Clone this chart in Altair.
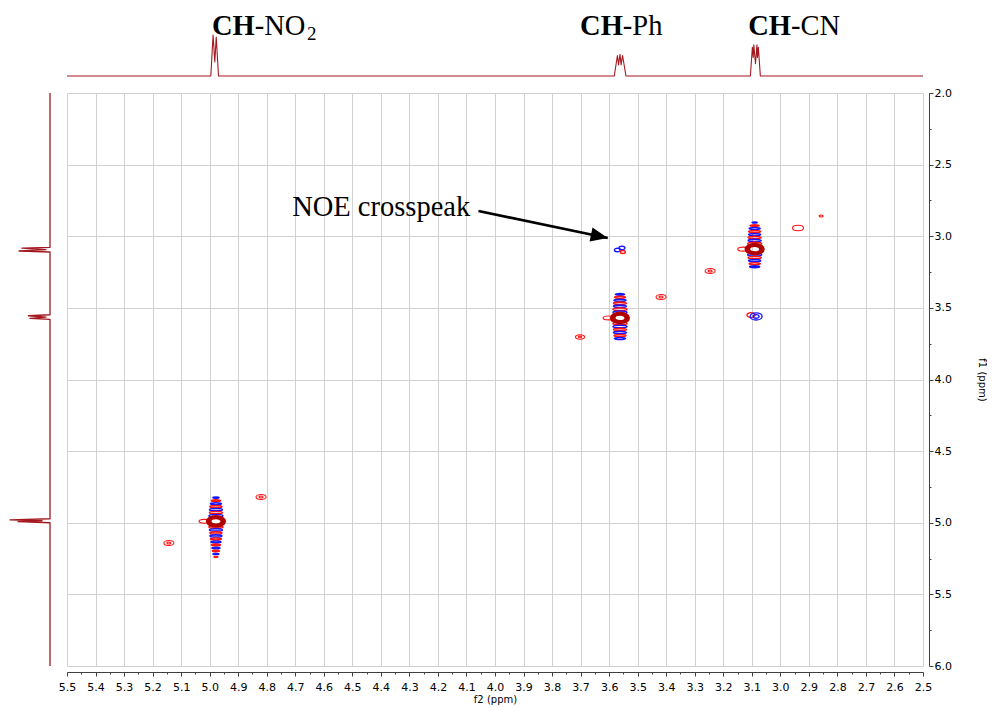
import altair as alt
import pandas as pd

# ---------------- colours / fonts ----------------
TRACE = "#a3191f"
POS = "#ff1414"
NEG = "#1616ff"
CORE = "#b00000"
SERIF = "Liberation Serif, DejaVu Serif, serif"
SANS = "DejaVu Sans"

# ---------------- 1D projections ----------------
top_ppm = [5.5, 4.996, 4.988, 4.982, 4.977, 4.969,
           3.582, 3.571, 3.567, 3.562, 3.558, 3.553, 3.541,
           3.105, 3.098, 3.095, 3.093, 3.087, 3.082, 3.080, 3.077, 3.070, 2.5]
top_int = [0, 0, 1.0, 0.34, 0.95, 0,
           0, 0.50, 0.27, 0.53, 0.27, 0.50, 0,
           0, 0.70, 0.45, 0.76, 0.30, 0.76, 0.45, 0.70, 0, 0]

left_ppm = [2.0, 3.077, 3.083, 3.093, 3.103, 3.110,
            3.548, 3.555, 3.564, 3.573, 3.580,
            4.972, 4.980, 4.986, 4.992, 5.000, 6.0]
left_int = [0, 0, 0.70, 0.10, 0.775, 0,
            0, 0.54, 0.10, 0.50, 0,
            0, 1.0, 0.20, 0.80, 0, 0]

# ---------------- peak labels ----------------
label_bold = ["CH", "CH", "CH"]
label_rest = ["-NO", "-Ph", "-CN"]
label_ppm = [4.842, 3.552, 2.963]
label_level = [1.0, 1.0, 1.0]
sub_text = ["2"]
sub_ppm = [4.659]
sub_level = [0.88]

# ---------------- 2D NOESY contours ----------------
diag_f2 = [4.978, 3.562, 3.090]
diag_f1 = [4.990, 3.570, 3.090]

band_dy = [
    [-0.165, -0.144, -0.123, -0.102, -0.081, -0.060, -0.039,
     0.039, 0.060, 0.081, 0.102, 0.123, 0.144, 0.165, 0.186, 0.207, 0.228, 0.249],
    [-0.165, -0.144, -0.123, -0.102, -0.081, -0.060, -0.039,
     0.039, 0.060, 0.081, 0.102, 0.123, 0.144],
    [-0.186, -0.165, -0.144, -0.123, -0.102, -0.081, -0.060, -0.039,
     0.039, 0.060, 0.081, 0.102, 0.123],
]
band_w = [
    [0.021, 0.0315, 0.0385, 0.042, 0.0455, 0.0455, 0.049,
     0.049, 0.0455, 0.042, 0.042, 0.0385, 0.035, 0.0315, 0.028, 0.0245, 0.021, 0.014],
    [0.0315, 0.0385, 0.042, 0.0455, 0.0455, 0.049, 0.049,
     0.049, 0.049, 0.0455, 0.0455, 0.042, 0.0385],
    [0.0175, 0.0315, 0.0385, 0.042, 0.042, 0.0455, 0.0455, 0.049,
     0.049, 0.0455, 0.042, 0.0385, 0.035],
]
core_ring_w = [0.063, 0.051, 0.039]

tail_f2 = [5.018, 3.602, 3.130]
tail_f1 = [4.990, 3.570, 3.090]
tail_w = [0.0385, 0.0385, 0.0385]

iso_f2 = [3.702, 3.418, 3.246, 2.938, 2.857, 5.143, 4.820]
iso_f1 = [3.703, 3.424, 3.243, 2.942, 2.859, 5.141, 4.820]
iso_w = [0.0315, 0.035, 0.035, 0.0385, 0.014, 0.035, 0.035]
iso_inner_w = [0.012, 0.014, 0.014, 0.0, 0.0, 0.014, 0.014]

cross_f2 = [3.571, 3.555, 3.552, 3.103, 3.085, 3.085]
cross_f1 = [3.096, 3.082, 3.110, 3.550, 3.560, 3.560]
cross_w = [0.021, 0.021, 0.0175, 0.028, 0.042, 0.021]
cross_sign = ["neg", "neg", "pos", "pos", "neg", "neg"]

noe_label = ["NOE crosspeak"]
noe_f2 = [4.711]
noe_f1 = [2.859]
arrow_from = [4.058, 2.824]
arrow_to = [3.605, 3.012]

# ---------------- tick values ----------------
x_major = [5.5, 5.4, 5.3, 5.2, 5.1, 5.0, 4.9, 4.8, 4.7, 4.6, 4.5, 4.4, 4.3, 4.2, 4.1,
           4.0, 3.9, 3.8, 3.7, 3.6, 3.5, 3.4, 3.3, 3.2, 3.1, 3.0, 2.9, 2.8, 2.7, 2.6, 2.5]
x_minor = [5.45, 5.35, 5.25, 5.15, 5.05, 4.95, 4.85, 4.75, 4.65, 4.55, 4.45, 4.35, 4.25,
           4.15, 4.05, 3.95, 3.85, 3.75, 3.65, 3.55, 3.45, 3.35, 3.25, 3.15, 3.05, 2.95,
           2.85, 2.75, 2.65, 2.55]
y_major = [2.0, 2.5, 3.0, 3.5, 4.0, 4.5, 5.0, 5.5, 6.0]
y_minor = [2.25, 2.75, 3.25, 3.75, 4.25, 4.75, 5.25, 5.75]

# ---------------- tables ----------------
top_df = pd.DataFrame({"f2": top_ppm, "int": top_int})
left_df = pd.DataFrame({"f1": left_ppm, "int": left_int})
lab_df = pd.DataFrame({"f2": label_ppm, "int": label_level,
                       "bold": label_bold, "rest": label_rest})
sub_df = pd.DataFrame({"f2": sub_ppm, "int": sub_level, "t": sub_text})

band_rows = []
for k in range(len(diag_f2)):
    for i, (dy, w) in enumerate(zip(band_dy[k], band_w[k])):
        band_rows.append({"f2": diag_f2[k], "f1": diag_f1[k] + dy, "w": w,
                          "sign": "neg" if i % 2 == 0 else "pos"})
band_df = pd.DataFrame(band_rows)

core_rows = []
for k in range(len(diag_f2)):
    for w in core_ring_w:
        core_rows.append({"f2": diag_f2[k], "f1": diag_f1[k], "w": w})
core_df = pd.DataFrame(core_rows)

tail_df = pd.DataFrame({"f2": tail_f2, "f1": tail_f1, "w": tail_w})

iso_rows = []
for a, b, w, wi in zip(iso_f2, iso_f1, iso_w, iso_inner_w):
    iso_rows.append({"f2": a, "f1": b, "w": w})
    if wi > 0:
        iso_rows.append({"f2": a, "f1": b, "w": wi})
iso_df = pd.DataFrame(iso_rows)

cross_df = pd.DataFrame({"f2": cross_f2, "f1": cross_f1, "w": cross_w, "sign": cross_sign})
noe_df = pd.DataFrame({"f2": noe_f2, "f1": noe_f1, "label": noe_label})
arrow_df = pd.DataFrame({"f2": [arrow_from[0]], "f1": [arrow_from[1]],
                         "f2b": [arrow_to[0]], "f1b": [arrow_to[1]]})
head_df = pd.DataFrame({"f2": [arrow_to[0]], "f1": [arrow_to[1]]})


def ellipse(a):
    return (f"M -1 0 A 1 {a} 0 0 1 0 -{a} A 1 {a} 0 0 1 1 0 "
            f"A 1 {a} 0 0 1 0 {a} A 1 {a} 0 0 1 -1 0 Z")


HEAD = "M 0 0 L -2 -0.85 L -2 0.85 Z"

# ---------------- scales / axes ----------------
X_SCALE = alt.Scale(domain=[2.5, 5.5], reverse=True, nice=False, zero=False)
Y_SCALE = alt.Scale(domain=[2.0, 6.0], reverse=True, nice=False, zero=False)
TOP_Y = alt.Scale(domain=[-0.41463, 1.6585], nice=False, zero=False)
LEFT_X = alt.Scale(domain=[-0.2, 1.05], reverse=True, nice=False, zero=False)
SIZE = alt.Scale(type="pow", exponent=2, domain=[0, 0.1], range=[0, 814.2])
COLOR = alt.Scale(domain=["pos", "neg"], range=[POS, NEG])

x_minor_test = "round(datum.value*100) % 10 != 0"
y_minor_test = "round(datum.value*100) % 50 != 0"

x_axis = alt.Axis(
    orient="bottom", offset=6, values=x_major + x_minor, title="f2 (ppm)",
    labelExpr="round(datum.value*100) % 10 == 0 ? format(datum.value, '.1f') : ''",
    tickSize={"condition": {"test": x_minor_test, "value": 2}, "value": 4},
    gridOpacity={"condition": {"test": x_minor_test, "value": 0}, "value": 1},
    grid=True, gridColor="#d2d2d2", gridWidth=1,
    domainColor="#404040", tickColor="#404040",
    labelFont=SANS, labelFontSize=11, labelColor="black", labelPadding=5,
    labelFlush=False, labelOverlap=False,
    titleFont=SANS, titleFontSize=10, titleFontWeight="normal", titleColor="black",
    titlePadding=2,
)
y_axis = alt.Axis(
    orient="right", offset=6, values=y_major + y_minor, title="f1 (ppm)",
    labelExpr="round(datum.value*100) % 50 == 0 ? format(datum.value, '.1f') : ''",
    tickSize={"condition": {"test": y_minor_test, "value": 2}, "value": 4},
    gridOpacity={"condition": {"test": y_minor_test, "value": 0}, "value": 1},
    grid=True, gridColor="#d2d2d2", gridWidth=1,
    domainColor="#404040", tickColor="#404040",
    labelFont=SANS, labelFontSize=11, labelColor="black", labelPadding=1,
    labelFlush=False, labelOverlap=False,
    titleFont=SANS, titleFontSize=10, titleFontWeight="normal", titleColor="black",
    titlePadding=25,
)

X = alt.X("f2:Q", scale=X_SCALE, axis=x_axis)
Y = alt.Y("f1:Q", scale=Y_SCALE, axis=y_axis)
S = alt.Size("w:Q", scale=SIZE, legend=None)
C = alt.Color("sign:N", scale=COLOR, legend=None)

# ---------------- main 2D panel ----------------
bands = alt.Chart(band_df).mark_point(
    shape=ellipse(0.18), filled=False, strokeWidth=1.6, opacity=1
).encode(x=X, y=Y, size=S, color=C)

tails = alt.Chart(tail_df).mark_point(
    shape=ellipse(0.35), filled=False, strokeWidth=1.2, color=POS, opacity=1
).encode(x=X, y=Y, size=S)

core = alt.Chart(core_df).mark_point(
    shape=ellipse(0.58), filled=False, strokeWidth=2.2, color=CORE, opacity=1
).encode(x=X, y=Y, size=S)

iso = alt.Chart(iso_df).mark_point(
    shape=ellipse(0.5), filled=False, strokeWidth=1.1, color=POS, opacity=1
).encode(x=X, y=Y, size=S)

cross = alt.Chart(cross_df).mark_point(
    shape=ellipse(0.6), filled=False, strokeWidth=1.4, opacity=1
).encode(x=X, y=Y, size=S, color=C)

arrow_line = alt.Chart(arrow_df).mark_rule(color="black", strokeWidth=2.6).encode(
    x=X, y=Y, x2=alt.X2("f2b:Q"), y2=alt.Y2("f1b:Q"))

arrow_head = alt.Chart(head_df).mark_point(
    shape=HEAD, filled=True, color="black", size=289, angle=11.75, opacity=1
).encode(x=X, y=Y)

noe_text = alt.Chart(noe_df).mark_text(
    font=SERIF, fontSize=28.5, align="left", baseline="alphabetic", color="black"
).encode(x=X, y=Y, text="label:N")

main = alt.layer(bands, tails, core, iso, cross, arrow_line, arrow_head, noe_text).properties(
    width=856, height=573, view=alt.ViewBackground(stroke="#c8c8c8", strokeWidth=1))

# ---------------- top 1D trace ----------------
TX = alt.X("f2:Q", scale=X_SCALE, axis=None)
TY = alt.Y("int:Q", scale=TOP_Y, axis=None)
top_line = alt.Chart(top_df).mark_line(
    color=TRACE, strokeWidth=1.1, strokeJoin="round").encode(x=TX, y=TY)
top_bold = alt.Chart(lab_df).mark_text(
    font=SERIF, fontSize=28.5, fontWeight="bold", align="right", baseline="alphabetic",
    color="black").encode(x=TX, y=TY, text="bold:N")
top_rest = alt.Chart(lab_df).mark_text(
    font=SERIF, fontSize=28.5, fontWeight="normal", align="left", baseline="alphabetic",
    color="black").encode(x=TX, y=TY, text="rest:N")
top_sub = alt.Chart(sub_df).mark_text(
    font=SERIF, fontSize=19, fontWeight="normal", align="left", baseline="alphabetic",
    color="black").encode(x=TX, y=TY, text="t:N")
top = alt.layer(top_line, top_bold, top_rest, top_sub).properties(width=856, height=85)

spacer = alt.Chart(pd.DataFrame({"v": [0.0]})).mark_point(opacity=0).encode(
    x=alt.X("v:Q", scale=alt.Scale(domain=[-1, 1]), axis=None),
    y=alt.Y("v:Q", scale=alt.Scale(domain=[-1, 1]), axis=None),
).properties(width=50, height=85)

# ---------------- left 1D trace ----------------
left = alt.Chart(left_df).mark_line(color=TRACE, strokeWidth=1.3, strokeJoin="round").encode(
    x=alt.X("int:Q", scale=LEFT_X, axis=None),
    y=alt.Y("f1:Q", scale=Y_SCALE, axis=None),
    order=alt.Order("f1:Q"),
).properties(width=50, height=573)

chart = alt.concat(
    spacer, top, left, main,
    columns=2, spacing={"row": 0, "column": 9}, bounds="flush",
).properties(padding=0, background="white").configure_view(stroke=None)

chart.save("out.html", embed_options={"renderer": "svg", "actions": False})
